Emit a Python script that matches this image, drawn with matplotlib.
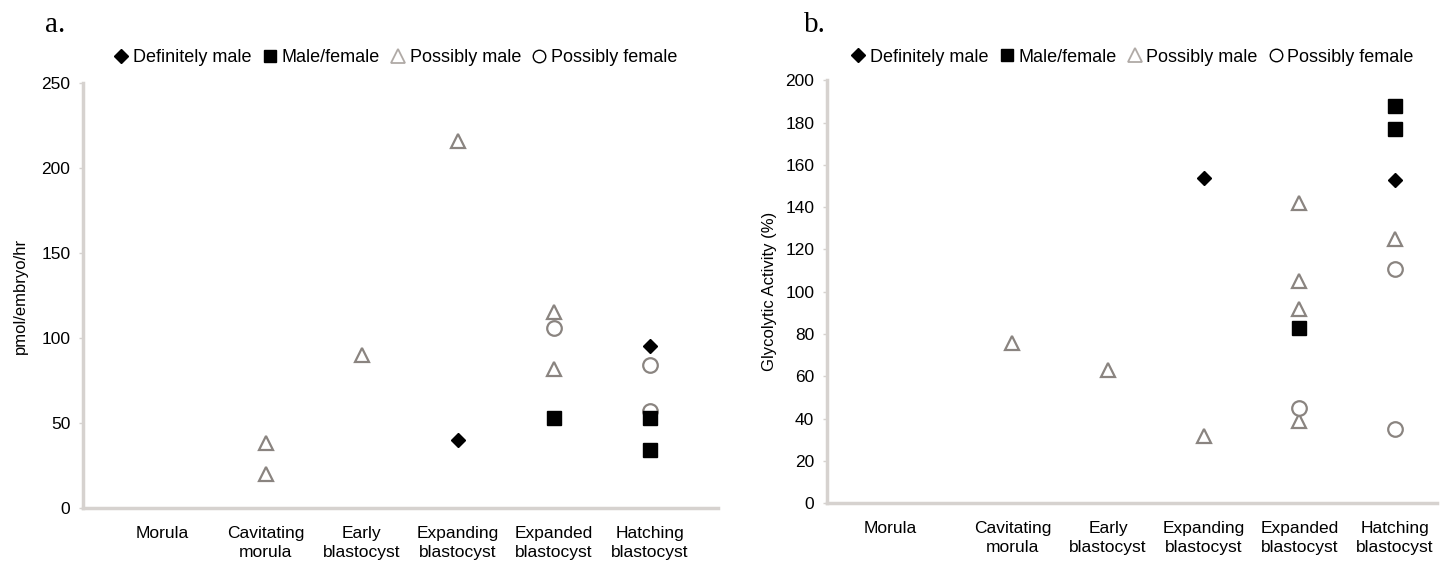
import matplotlib
matplotlib.use("Agg")
import matplotlib.pyplot as plt
from matplotlib.lines import Line2D

stages = ["Morula", "Cavitating\nmorula", "Early\nblastocyst",
          "Expanding\nblastocyst", "Expanded\nblastocyst", "Hatching\nblastocyst"]

# panel a: pmol/embryo/hr  (stage index, value)
def_male_a_x = [3, 5]
def_male_a_y = [40, 95]
male_fem_a_x = [4, 5, 5]
male_fem_a_y = [53, 53, 34]
poss_male_a_x = [1, 1, 2, 3, 4, 4]
poss_male_a_y = [38, 20, 90, 216, 115, 82]
poss_fem_a_x = [4, 5, 5]
poss_fem_a_y = [106, 84, 57]

# panel b: glycolytic activity (%)
def_male_b_x = [3, 5]
def_male_b_y = [154, 153]
male_fem_b_x = [4, 5, 5]
male_fem_b_y = [83, 188, 177]
poss_male_b_x = [1, 2, 3, 4, 4, 4, 4, 5]
poss_male_b_y = [76, 63, 32, 142, 105, 92, 39, 125]
poss_fem_b_x = [4, 5, 5]
poss_fem_b_y = [45, 111, 35]

plt.rcParams['font.family'] = ['Liberation Sans', 'DejaVu Sans']

grey = '#8a8480'
axis_col = '#d6d2cf'

fig = plt.figure(figsize=(14.53, 5.66), dpi=100)
ax_a = fig.add_axes([0.0571, 0.1025, 0.437, 0.751])
ax_b = fig.add_axes([0.569, 0.111, 0.42, 0.747])


def draw(ax, dm, mf, pm, pf):
    ax.plot(pm[0], pm[1], ls='none', marker='^', ms=10, mfc='white',
            mec=grey, mew=1.6, zorder=2)
    ax.plot(pf[0], pf[1], ls='none', marker='o', ms=10.5, mfc='white',
            mec=grey, mew=1.6, zorder=2)
    ax.plot(mf[0], mf[1], ls='none', marker='s', ms=9.5, color='black',
            zorder=3)
    ax.plot(dm[0], dm[1], ls='none', marker='D', ms=7, color='black',
            zorder=3)
    for s in ['top', 'right']:
        ax.spines[s].set_visible(False)
    for s in ['left', 'bottom']:
        ax.spines[s].set_color(axis_col)
        ax.spines[s].set_linewidth(2.5)
    ax.tick_params(axis='y', length=3, width=1, color=axis_col,
                   labelsize=12.5, pad=6)
    ax.tick_params(axis='x', length=0, labelsize=12.5, pad=13)
    handles = [
        Line2D([], [], ls='none', marker='D', ms=7, color='black'),
        Line2D([], [], ls='none', marker='s', ms=9, color='black'),
        Line2D([], [], ls='none', marker='^', ms=10, mfc='white', mec='#b0aaa6', mew=1.3),
        Line2D([], [], ls='none', marker='o', ms=9, mfc='white', mec='black', mew=1.0),
    ]
    labels = ['Definitely male', 'Male/female', 'Possibly male', 'Possibly female']
    return handles, labels


h, l = draw(ax_a, (def_male_a_x, def_male_a_y), (male_fem_a_x, male_fem_a_y),
            (poss_male_a_x, poss_male_a_y), (poss_fem_a_x, poss_fem_a_y))
ax_a.set_ylim(0, 250)
ax_a.set_yticks(range(0, 251, 50))
ax_a.set_xlim(-0.906, 5.71)
ax_a.set_xticks([-0.08, 1, 2, 3, 4, 5])
ax_a.set_xticklabels(stages, linespacing=1.3)
ax_a.set_ylabel('pmol/embryo/hr', fontsize=12, labelpad=10)
ax_a.legend(h, l, loc='center left', bbox_to_anchor=(0.035, 1.06), ncol=4,
            frameon=False, fontsize=13, handletextpad=0.15,
            columnspacing=0.5, handlelength=1.0, borderaxespad=0)

h, l = draw(ax_b, (def_male_b_x, def_male_b_y), (male_fem_b_x, male_fem_b_y),
            (poss_male_b_x, poss_male_b_y), (poss_fem_b_x, poss_fem_b_y))
ax_b.set_ylim(0, 200)
ax_b.set_yticks(range(0, 201, 20))
ax_b.set_xlim(-0.94, 5.44)
ax_b.set_xticks([-0.28, 1, 2, 3, 4, 5])
ax_b.set_xticklabels(stages, linespacing=1.3)
ax_b.set_ylabel('Glycolytic Activity (%)', fontsize=12, labelpad=6)
ax_b.legend(h, l, loc='center left', bbox_to_anchor=(0.025, 1.055), ncol=4,
            frameon=False, fontsize=13, handletextpad=0.15,
            columnspacing=0.5, handlelength=1.0, borderaxespad=0)

fig.text(55 / 1453, 1 - 25 / 566, 'a.', fontsize=21, family='Liberation Serif',
         ha='center', va='center')
fig.text(815 / 1453, 1 - 25 / 566, 'b.', fontsize=21, family='Liberation Serif',
         ha='center', va='center')

fig.savefig('out.png', dpi=100)
